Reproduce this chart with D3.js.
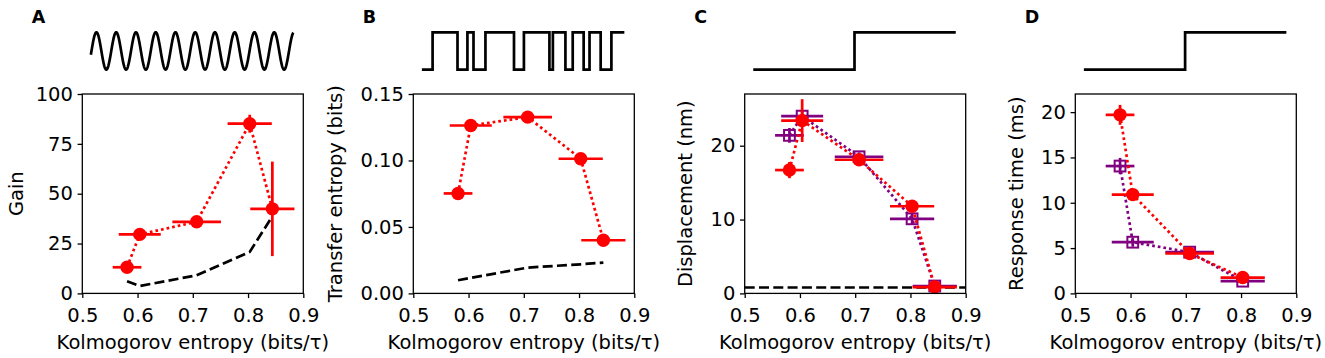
<!DOCTYPE html>
<html>
<head>
<meta charset="utf-8">
<script src="https://cdn.jsdelivr.net/npm/d3@7"></script>
<style>
  body { margin: 0; background: #fff; }
  svg { display: block; font-family: "DejaVu Sans", sans-serif; }
</style>
</head>
<body>
<div id="chart"></div>
<script>
// Kolmogorov entropy of the stimuli (shared by all panels) and its spread
const entropy = [0.581, 0.604, 0.707, 0.803, 0.844];
const entropyErr = [0.026, 0.038, 0.044, 0.040, 0.040];

// A - sine stimulus
const gain = [13.1, 29.6, 35.9, 85.1, 42.4];
const gainErr = [1.5, 1.5, 1.5, 4.5, 23.7];
const gainNull = [6.1, 3.7, 9.1, 20.8, 38.7];

// B - random square stimulus
const transfer = [0.0752, 0.1263, 0.1326, 0.1013, 0.0400];
const transferErr = [0.002, 0.002, 0.002, 0.002, 0.002];
const transferNull = [0.0099, 0.0117, 0.0194, 0.0219, 0.0232];

// C - step stimulus, displacement
const dispRed = [16.7, 23.4, 18.1, 11.8, 0.86];
const dispRedErr = [1.1, 2.9, 0.6, 0.6, 0.3];
const dispPurple = [21.4, 24.0, 18.5, 10.1, 1.0];
const dispPurpleErr = [1.0, 0.8, 0.6, 0.8, 0.3];
const dispNull = 0.8;

// D - step stimulus, response time (only four entropies)
const respRed = [19.7, 10.9, 4.4, 1.75];
const respRedErr = [1.1, 0.5, 0.4, 0.3];
const respPurple = [14.05, 5.65, 4.55, 1.35];
const respPurpleErr = [0.9, 0.5, 0.3, 0.3];

// stimulus sketches
const sineCycles = 10.25;
const squareEdges = [0, 0.053, 0.176, 0.225, 0.255, 0.314, 0.455, 0.504, 0.630, 0.647,
                     0.709, 0.745, 0.799, 0.828, 0.883, 0.936, 1];   // level flips, starts low
const stepAt = 0.5;

const xTicks = [0.5, 0.6, 0.7, 0.8, 0.9];

const RED = "#ff0000", PURPLE = "#800080";

const W = 1325, H = 358;
const plotW = 221, plotTop = 94, plotH = 199.4;
const fs = 19.5;

const svg = d3.select("#chart").append("svg")
    .attr("width", W)
    .attr("height", H);

const panels = [
    {letter: "A", left: 82.3, ylabel: "Gain", ylabelX: -59, domain: [0, 100],
     ticks: [0, 25, 50, 75, 100], fmt: d3.format("d"), stim: "sine",
     series: [{y: gain, err: gainErr, color: RED, mark: "circle", n: 5}],
     nullLine: gainNull},
    {letter: "B", left: 413.3, ylabel: "Transfer entropy (bits)", ylabelX: -71.3, domain: [0, 0.15],
     ticks: [0, 0.05, 0.10, 0.15], fmt: d3.format(".2f"), stim: "square",
     series: [{y: transfer, err: transferErr, color: RED, mark: "circle", n: 5}],
     nullLine: transferNull},
    {letter: "C", left: 744.7, ylabel: "Displacement (nm)", ylabelX: -52.7, domain: [0, 27],
     ticks: [0, 10, 20], fmt: d3.format("d"), stim: "step",
     series: [{y: dispPurple, err: dispPurpleErr, color: PURPLE, mark: "square", n: 5},
              {y: dispRed, err: dispRedErr, color: RED, mark: "circle", n: 5}],
     hline: dispNull},
    {letter: "D", left: 1075.3, ylabel: "Response time (ms)", ylabelX: -52.6, domain: [0, 22],
     ticks: [0, 5, 10, 15, 20], fmt: d3.format("d"), stim: "step",
     series: [{y: respPurple, err: respPurpleErr, color: PURPLE, mark: "square", n: 4},
              {y: respRed, err: respRedErr, color: RED, mark: "circle", n: 4}]}
];

panels.forEach(p => drawPanel(p));

function drawPanel(p) {
    let g = svg.append("g").attr("transform", `translate(${p.left},${plotTop})`);

    let x = d3.scaleLinear().domain([0.5, 0.9]).range([0, plotW]);
    let y = d3.scaleLinear().domain(p.domain).range([plotH, 0]);

    // panel letter
    svg.append("text")
        .attr("x", p.left - 50.5)
        .attr("y", 22.5)
        .attr("font-size", 17.5)
        .attr("font-weight", "bold")
        .text(p.letter);

    // stimulus sketch above the axes, spanning the same fraction of width as in the figure
    drawStim(p.stim, p.left + x(0.5155), p.left + x(0.882));

    // axes
    let xAxis = g.append("g")
        .attr("transform", `translate(0,${plotH})`)
        .call(d3.axisBottom(x).tickValues(xTicks).tickFormat(d3.format(".1f"))
            .tickSize(4.7).tickPadding(9.6));
    let yAxis = g.append("g")
        .call(d3.axisLeft(y).tickValues(p.ticks).tickFormat(p.fmt)
            .tickSize(4.7).tickPadding(4.7));
    [xAxis, yAxis].forEach(a => {
        a.select(".domain").remove();
        a.selectAll("line").attr("stroke", "#000").attr("stroke-width", 1.3);
        a.selectAll("text").attr("font-size", fs).attr("fill", "#000")
            .attr("font-family", "DejaVu Sans, sans-serif");
    });

    g.append("text")
        .attr("transform", `translate(${p.ylabelX},${plotH / 2}) rotate(-90)`)
        .attr("text-anchor", "middle")
        .attr("font-size", fs)
        .text(p.ylabel);

    g.append("text")
        .attr("x", plotW / 2)
        .attr("y", 254.6)
        .attr("text-anchor", "middle")
        .attr("font-size", fs)
        .text("Kolmogorov entropy (bits/\u03C4)");

    let plot = g.append("g");

    // null / baseline curves
    if (p.nullLine) {
        plot.append("path")
            .datum(p.nullLine)
            .attr("fill", "none")
            .attr("stroke", "#000")
            .attr("stroke-width", 2.7)
            .attr("stroke-dasharray", "10,4.3")
            .attr("d", d3.line().x((d, i) => x(entropy[i])).y(d => y(d)));
    }
    if (p.hline !== undefined) {
        plot.append("line")
            .attr("x1", 0).attr("x2", plotW)
            .attr("y1", y(p.hline)).attr("y2", y(p.hline))
            .attr("stroke", "#000")
            .attr("stroke-width", 2.7)
            .attr("stroke-dasharray", "10,4.3");
    }

    p.series.forEach(s => {
        let pts = d3.range(s.n).map(i => ({x: entropy[i], xe: entropyErr[i], y: s.y[i], ye: s.err[i]}));

        plot.append("path")
            .datum(pts)
            .attr("fill", "none")
            .attr("stroke", s.color)
            .attr("stroke-width", 2.7)
            .attr("stroke-dasharray", "2.7,3")
            .attr("d", d3.line().x(d => x(d.x)).y(d => y(d.y)));

        let bars = plot.append("g").attr("stroke", s.color).attr("stroke-width", 2.7);
        bars.selectAll(".xe").data(pts).enter().append("line")
            .attr("x1", d => x(d.x - d.xe)).attr("x2", d => x(d.x + d.xe))
            .attr("y1", d => y(d.y)).attr("y2", d => y(d.y));
        bars.selectAll(".ye").data(pts).enter().append("line")
            .attr("x1", d => x(d.x)).attr("x2", d => x(d.x))
            .attr("y1", d => y(d.y - d.ye)).attr("y2", d => y(d.y + d.ye));

        if (s.mark === "circle") {
            plot.selectAll(null).data(pts).enter().append("circle")
                .attr("cx", d => x(d.x)).attr("cy", d => y(d.y))
                .attr("r", 6.7)
                .attr("fill", s.color);
        } else {
            plot.selectAll(null).data(pts).enter().append("rect")
                .attr("x", d => x(d.x) - 5.4).attr("y", d => y(d.y) - 5.4)
                .attr("width", 10.8).attr("height", 10.8)
                .attr("fill", "none")
                .attr("stroke", s.color)
                .attr("stroke-width", 2);
        }
    });

    // frame
    g.append("rect")
        .attr("width", plotW).attr("height", plotH)
        .attr("fill", "none")
        .attr("stroke", "#000")
        .attr("stroke-width", 1.3);
}

function drawStim(kind, x0, x1) {
    let t = d3.scaleLinear().domain([0, 1]).range([x0, x1]);
    let sy = d3.scaleLinear().domain([-1, 1]).range([69.6, 32.3]);
    let pts = [];

    if (kind === "sine") {
        pts = d3.range(0, 1.0001, 0.001).map(u => [t(u), sy(Math.sin(2 * Math.PI * sineCycles * u - 0.2))]);
    } else if (kind === "square") {
        let level = -1;
        for (let i = 0; i < squareEdges.length - 1; i++) {
            pts.push([t(squareEdges[i]), sy(level)]);
            pts.push([t(squareEdges[i + 1]), sy(level)]);
            level = -level;
        }
    } else {
        pts = [[t(0), sy(-1)], [t(stepAt), sy(-1)], [t(stepAt), sy(1)], [t(1), sy(1)]];
    }

    svg.append("path")
        .attr("d", d3.line()(pts))
        .attr("fill", "none")
        .attr("stroke", "#000")
        .attr("stroke-width", 2.7);
}
</script>
</body>
</html>
